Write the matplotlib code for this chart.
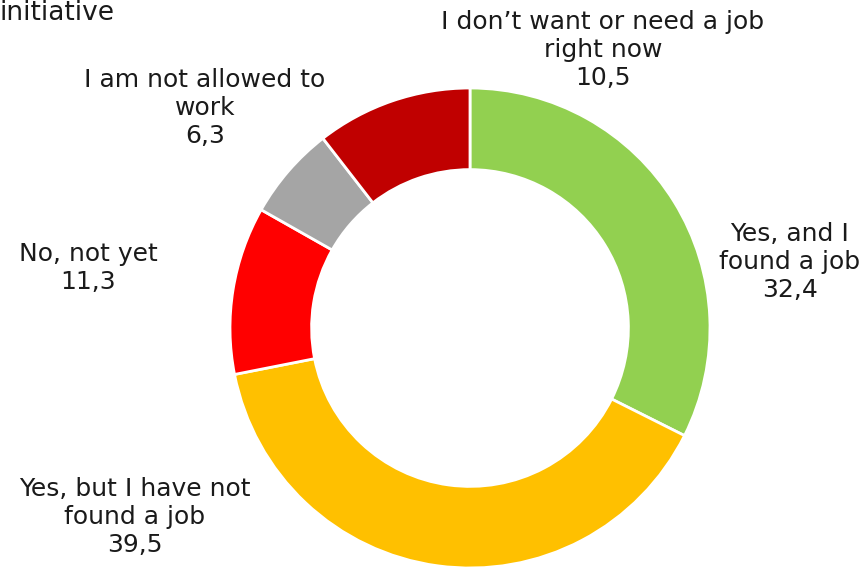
import matplotlib.pyplot as plt

labels = ["Yes, and I\nfound a job", "Yes, but I have not\nfound a job", "No, not yet",
          "I am not allowed to\nwork", "I don\u2019t want or need a job\nright now"]
values = [32.4, 39.5, 11.3, 6.3, 10.5]
colors = ["#92D050", "#FFC000", "#FF0000", "#A5A5A5", "#C00000"]
# label centres in pixels (x from left, y from top)
label_px = [(790, 262), (135, 517), (88, 268), (205, 108), (603, 50)]

W, H = 868, 569
cx, cy, R = 470, 328, 240

fig = plt.figure(figsize=(W / 100, H / 100), dpi=100)
ax = fig.add_axes([0, 0, 1, 1])
ax.pie(values, colors=colors, startangle=90, counterclock=False, radius=1,
       wedgeprops=dict(width=0.34, edgecolor="white", linewidth=2))
ax.set_xlim(-cx / R, (W - cx) / R)
ax.set_ylim(-(H - cy) / R, cy / R)
ax.set_aspect("auto")
ax.axis("off")

for lab, v, (px, py) in zip(labels, values, label_px):
    txt = lab + "\n" + f"{v:.1f}".replace(".", ",")
    ax.text(px / W, 1 - py / H, txt, transform=ax.transAxes, ha="center", va="center",
            fontsize=18, linespacing=1.2, color="#1a1a1a")

fig.text(0.0, 1 - 13 / H, "initiative", ha="left", va="center", fontsize=19, color="#1a1a1a")

fig.savefig("out.png", dpi=100)
